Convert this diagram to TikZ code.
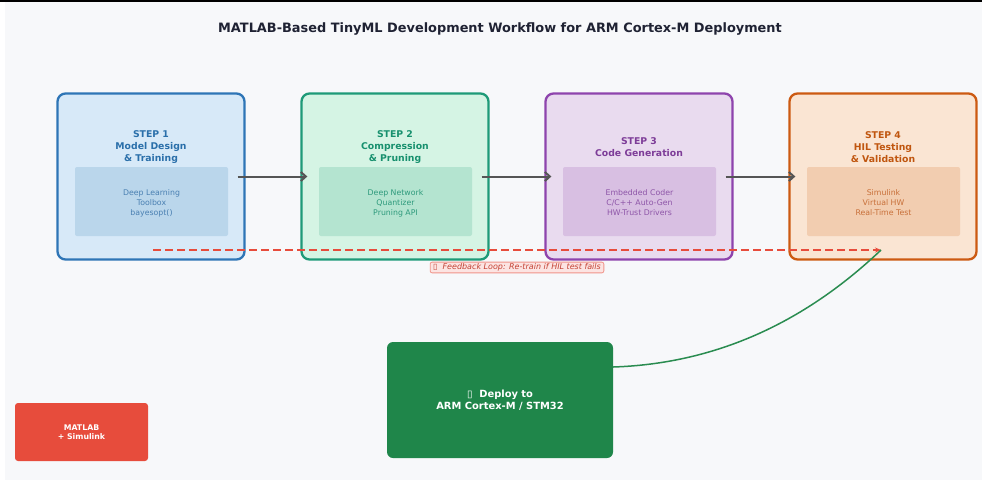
\documentclass[tikz,border=0pt]{standalone}
\usepackage{fontspec}
\setmainfont{DejaVu Sans}
\usetikzlibrary{arrows.meta}
\definecolor{bgc}{HTML}{F7F8FA}
\definecolor{titlec}{HTML}{1F2233}
\definecolor{bD}{HTML}{2E75B6}\definecolor{bF}{HTML}{D7E9F8}\definecolor{bI}{HTML}{BAD6EB}\definecolor{bT}{HTML}{2A6FAA}\definecolor{bX}{HTML}{4A80B2}
\definecolor{gD}{HTML}{1E9A78}\definecolor{gF}{HTML}{D5F4E4}\definecolor{gI}{HTML}{B4E4D0}\definecolor{gT}{HTML}{17906E}\definecolor{gX}{HTML}{2E9A7C}
\definecolor{pD}{HTML}{8E44AD}\definecolor{pF}{HTML}{E9DBEF}\definecolor{pI}{HTML}{D8BFE2}\definecolor{pT}{HTML}{7D3C98}\definecolor{pX}{HTML}{8E56A8}
\definecolor{oD}{HTML}{CC5A12}\definecolor{oF}{HTML}{FAE5D3}\definecolor{oI}{HTML}{F2CDB0}\definecolor{oT}{HTML}{C0560F}\definecolor{oX}{HTML}{C8703A}
\definecolor{arrc}{HTML}{555555}
\definecolor{redc}{HTML}{E74C3C}
\definecolor{lblf}{HTML}{FCE4E2}
\definecolor{depc}{HTML}{1F864A}
\definecolor{curvec}{HTML}{2A8C50}
\begin{document}
\begin{tikzpicture}[x=1pt,y=-1pt,
  stepbox/.style={draw, rounded corners=8pt, line width=2.3pt, minimum width=187pt, minimum height=166pt, inner sep=0pt},
  innerbox/.style={rounded corners=2pt, minimum width=153pt, minimum height=69pt, inner sep=0pt},
  steptitle/.style={font=\fontsize{9.3}{12}\selectfont\bfseries, align=center, inner sep=0pt},
  steptext/.style={font=\fontsize{7.8}{10}\selectfont, align=center, inner sep=0pt},
  flow/.style={draw=arrc, line width=2pt, -{Straight Barb[length=5pt,width=9pt,line width=2pt]}},
  fb/.style={draw=redc, line width=1.5pt, dash pattern=on 8pt off 4pt, -{Stealth[length=6pt,width=5pt]}},
  fblabel/.style={draw=redc!60, fill=lblf, line width=0.8pt, rounded corners=2pt, inner xsep=3pt, inner ysep=1.5pt, text=redc!85!black, font=\fontsize{8}{9}\selectfont\itshape},
  deploybox/.style={fill=depc, rounded corners=6pt, minimum width=226pt, minimum height=116pt, text=white, align=center, font=\fontsize{9.9}{12}\selectfont\bfseries},
  matbox/.style={fill=redc, rounded corners=3pt, minimum width=133pt, minimum height=58pt, text=white, align=center, font=\fontsize{7.8}{9.5}\selectfont\bfseries}
]
\fill[bgc] (0,0) rectangle (982,480);
\fill[white] (0,0) rectangle (5,480);
\fill[black] (0,0) rectangle (982,2);
\useasboundingbox (0,0) rectangle (982,480);

\node[font=\fontsize{12.9}{15}\selectfont\bfseries, text=titlec] (title) at (500,29) {MATLAB-Based TinyML Development Workflow for ARM Cortex-M Deployment};

% Step 1
\node[stepbox, draw=bD, fill=bF] (s1) at (151,176.5) {};
\node[innerbox, fill=bI] (in1) at (151.5,201.5) {};
\node[steptitle, text=bT] (t1) at (151,147) {STEP 1\\Model Design\\\& Training};
\node[steptext, text=bX] (x1) at (151.5,203) {Deep Learning\\Toolbox\\bayesopt()};
% Step 2
\node[stepbox, draw=gD, fill=gF] (s2) at (395,176.5) {};
\node[innerbox, fill=gI] (in2) at (395.5,201.5) {};
\node[steptitle, text=gT] (t2) at (395,147) {STEP 2\\Compression\\\& Pruning};
\node[steptext, text=gX] (x2) at (395.5,203) {Deep Network\\Quantizer\\Pruning API};
% Step 3
\node[stepbox, draw=pD, fill=pF] (s3) at (639,176.5) {};
\node[innerbox, fill=pI] (in3) at (639.5,201.5) {};
\node[steptitle, text=pT] (t3) at (639,147) {STEP 3\\Code Generation};
\node[steptext, text=pX] (x3) at (639.5,203) {Embedded Coder\\C/C++ Auto-Gen\\HW-Trust Drivers};
% Step 4
\node[stepbox, draw=oD, fill=oF] (s4) at (883,176.5) {};
\node[innerbox, fill=oI] (in4) at (883.5,201.5) {};
\node[steptitle, text=oT] (t4) at (883,147) {STEP 4\\HIL Testing\\\& Validation};
\node[steptext, text=oX] (x4) at (883.5,203) {Simulink\\Virtual HW\\Real-Time Test};

% flow arrows
\draw[flow] ([xshift=-8pt]s1.east) -- ([xshift=7pt]s2.west);
\draw[flow] ([xshift=-8pt]s2.east) -- ([xshift=7pt]s3.west);
\draw[flow] ([xshift=-8pt]s3.east) -- ([xshift=7pt]s4.west);

% feedback
\coordinate (fbs) at (153,250);
\coordinate (fbe) at (881,250);
\draw[fb] (fbs) -- (fbe);
\node[fblabel] (fbl) at (517,267.5) {▯\ \ Feedback Loop: Re-train if HIL test fails};

% deploy
\node[deploybox] (dep) at (500,400) {▯\ \ Deploy to\\ARM Cortex-M / STM32};
\draw[curvec, line width=1.5pt] ([yshift=33pt]dep.east) .. controls (713,363.7) and (802.3,324.7) .. (fbe);

% matlab
\node[matbox] (mat) at (81.5,432) {MATLAB\\+ Simulink};
\end{tikzpicture}
\end{document}
